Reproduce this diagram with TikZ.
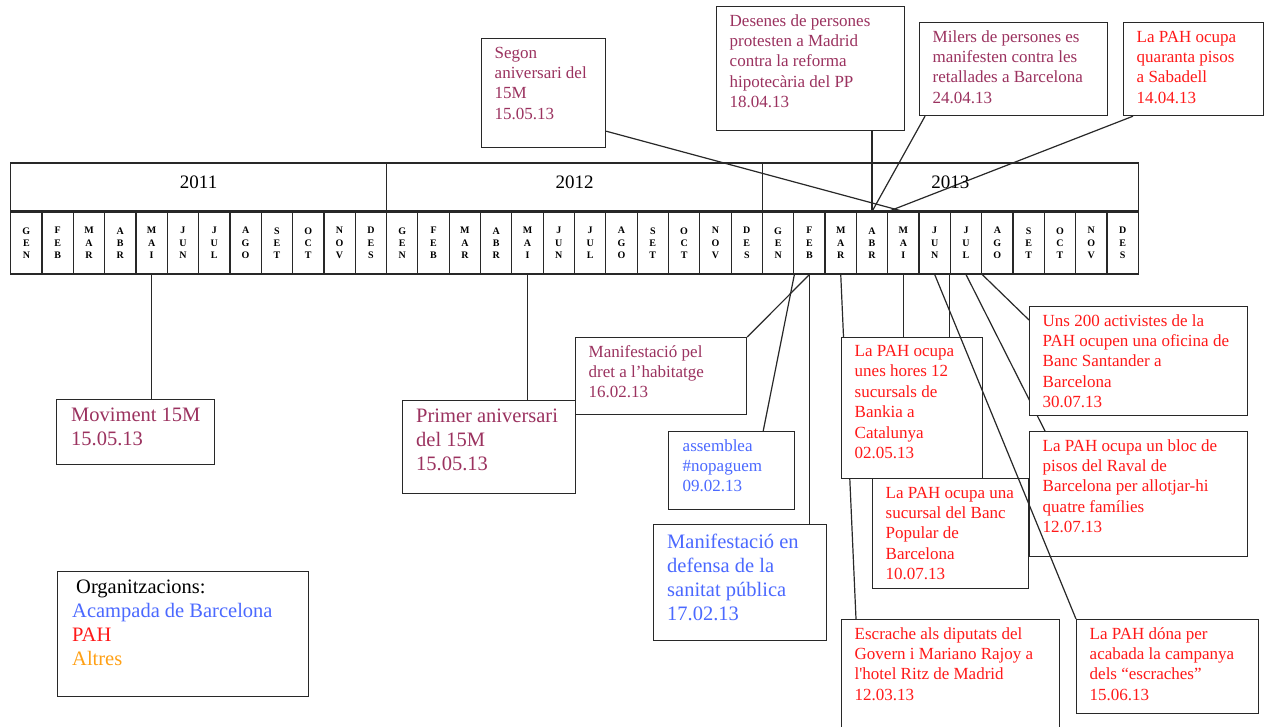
\documentclass[tikz,border=0pt]{standalone}
\usepackage{fontspec}
\setmainfont{Liberation Serif}
\usetikzlibrary{calc,backgrounds}
\definecolor{plum}{RGB}{155,50,95}
\definecolor{ablue}{RGB}{75,105,255}
\definecolor{pahred}{RGB}{255,25,25}
\definecolor{altorange}{RGB}{255,160,20}
\definecolor{edge}{RGB}{40,40,40}
\begin{document}
\begin{tikzpicture}[x=1pt,y=-1pt,
  box/.style={draw=edge, line width=1.2pt, fill=white, inner sep=0pt, anchor=north west},
  stxt/.style={inner sep=0pt, anchor=north west, align=left, font=\fontsize{17}{20.4}\selectfont},
  ltxt/.style={inner sep=0pt, anchor=north west, align=left, font=\fontsize{20.5}{24}\selectfont},
  conn/.style={draw=edge, line width=1.2pt},
  yearbox/.style={draw=edge, line width=1.2pt, minimum width=375.87pt, minimum height=48pt, inner sep=0pt},
  yeartxt/.style={inner sep=0pt, font=\fontsize{19}{22}\selectfont},
  monthbox/.style={draw=edge, line width=1.2pt, minimum width=31.322pt, minimum height=62pt, inner sep=0pt, align=center, font=\bfseries\fontsize{10}{12.3}\selectfont}
]
\useasboundingbox (0,0) rectangle (1268,726);
\clip (0,0) rectangle (1268,726);

% timeline
\foreach \yr [count=\yi from 0] in {2011,2012,2013} {
  \node[yearbox] (y\yr) at ({10.7+\yi*375.87+187.935},187) {};
  \node[yeartxt] (yl\yr) at ([yshift=5pt]y\yr.center) {\yr};
  \foreach \mn [count=\mi] in {{G\\E\\N},{F\\E\\B},{M\\A\\R},{A\\B\\R},{M\\A\\I},{J\\U\\N},{J\\U\\L},{A\\G\\O},{S\\E\\T},{O\\C\\T},{N\\O\\V},{D\\E\\S}}
    \node[monthbox] (m\yr-\mi) at ({10.7+\yi*375.87+(\mi-0.5)*31.322},243) {\mn};
}

% top boxes
\node[box, minimum width=124pt, minimum height=109pt] (segon) at (481,38) {};
\node[stxt, text=plum] (segon-t) at ([shift={(13.5pt,-5.7pt)}]segon.north west) {\strut Segon\\aniversari del\\15M\\15.05.13};
\node[box, minimum width=188pt, minimum height=124pt] (desen) at (716,6) {};
\node[stxt, text=plum] (desen-t) at ([shift={(13.5pt,-5.7pt)}]desen.north west) {\strut Desenes de persones\\protesten a Madrid\\contra la reforma\\hipotecària del PP\\18.04.13};
\node[box, minimum width=188pt, minimum height=93pt] (milers) at (919,22) {};
\node[stxt, text=plum] (milers-t) at ([shift={(13.5pt,-5.7pt)}]milers.north west) {\strut Milers de persones es\\manifesten contra les\\retallades a Barcelona\\24.04.13};
\node[box, minimum width=140pt, minimum height=93pt] (sabad) at (1123,22) {};
\node[stxt, text=pahred] (sabad-t) at ([shift={(13.5pt,-5.7pt)}]sabad.north west) {\strut La PAH ocupa\\quaranta pisos\\a Sabadell\\14.04.13};

% bottom boxes
\node[box, minimum width=158pt, minimum height=65pt] (mov) at (56,399) {};
\node[ltxt, text=plum] (mov-t) at ([shift={(15pt,-5.8pt)}]mov.north west) {\strut Moviment 15M\\15.05.13};
\node[box, minimum width=173pt, minimum height=93pt] (primer) at (402,400) {};
\node[ltxt, text=plum] (primer-t) at ([shift={(14pt,-5.8pt)}]primer.north west) {\strut Primer aniversari\\del 15M\\15.05.13};
\node[box, minimum width=171pt, minimum height=77pt] (habit) at (575,337) {};
\node[stxt, text=plum] (habit-t) at ([shift={(13.5pt,-5.7pt)}]habit.north west) {\strut Manifestació pel\\dret a l’habitatge\\16.02.13};
\node[box, minimum width=126pt, minimum height=78pt] (assem) at (668,431) {};
\node[stxt, text=ablue] (assem-t) at ([shift={(14.5pt,-5.7pt)}]assem.north west) {\strut assemblea\\\#nopaguem\\09.02.13};
\node[box, minimum width=173pt, minimum height=116pt] (sanit) at (653,524) {};
\node[ltxt, text=ablue] (sanit-t) at ([shift={(14pt,-7.5pt)}]sanit.north west) {\strut Manifestació en\\defensa de la\\sanitat pública\\17.02.13};
\node[box, minimum width=141pt, minimum height=141pt] (bankia) at (841,337) {};
\node[stxt, text=pahred] (bankia-t) at ([shift={(13.5pt,-5pt)}]bankia.north west) {\strut La PAH ocupa\\unes hores 12\\sucursals de\\Bankia a\\Catalunya\\02.05.13};
\node[box, minimum width=156pt, minimum height=110pt] (popul) at (872,478) {};
\node[stxt, text=pahred] (popul-t) at ([shift={(13.5pt,-5.7pt)}]popul.north west) {\strut La PAH ocupa una\\sucursal del Banc\\Popular de\\Barcelona\\10.07.13};
\node[box, minimum width=218pt, minimum height=109pt] (sant) at (1029,306) {};
\node[stxt, text=pahred] (sant-t) at ([shift={(13.5pt,-5.7pt)}]sant.north west) {\strut Uns 200 activistes de la\\PAH ocupen una oficina de\\Banc Santander a\\Barcelona\\30.07.13};
\node[box, minimum width=218pt, minimum height=125pt] (raval) at (1029,431) {};
\node[stxt, text=pahred] (raval-t) at ([shift={(13.5pt,-5.7pt)}]raval.north west) {\strut La PAH ocupa un bloc de\\pisos del Raval de\\Barcelona per allotjar-hi\\quatre famílies\\12.07.13};
\node[box, minimum width=218pt, minimum height=120pt] (escr) at (841,619) {};
\node[stxt, text=pahred] (escr-t) at ([shift={(13.5pt,-5.7pt)}]escr.north west) {\strut Escrache als diputats del\\Govern i Mariano Rajoy a\\l\textquotesingle hotel Ritz de Madrid\\12.03.13};
\node[box, minimum width=182pt, minimum height=94pt] (dona) at (1076,619) {};
\node[stxt, text=pahred] (dona-t) at ([shift={(13.5pt,-5.7pt)}]dona.north west) {\strut La PAH dóna per\\acabada la campanya\\dels “escraches”\\15.06.13};

% legend
\node[box, minimum width=251pt, minimum height=125pt] (legend) at (57,571) {};
\node[ltxt] (legend-t) at ([shift={(15pt,-5.8pt)}]legend.north west) {\strut\hspace*{4pt}Organitzacions:\\\textcolor{ablue}{Acampada de Barcelona}\\\textcolor{pahred}{PAH}\\\textcolor{altorange}{Altres}};

% connector drawn over boxes
\draw[conn] (m2013-6.south) -- (dona.north west);

% connectors behind boxes
\begin{pgfonlayer}{background}
\fill[white] (0,0) rectangle (1268,726);
\draw[conn] (m2011-5.south) -- (m2011-5.south |- mov.north);
\draw[conn] (m2012-5.south) -- (m2012-5.south |- primer.north);
\draw[conn] (habit.north east) -- (m2013-2.south);
\draw[conn] (m2013-1.south east) -- ([xshift=-32pt]assem.north east);
\draw[conn] (m2013-2.south) -- (m2013-2.south |- sanit.north);
\draw[conn] (m2013-3.south) -- ([xshift=15pt]escr.north west);
\draw[conn] (m2013-5.south) -- (m2013-5.south |- bankia.north);
\draw[conn] (m2013-7.south west) -- (m2013-7.south west |- popul.north);
\draw[conn] (m2013-7.south) -- ([xshift=16pt]raval.north west);
\draw[conn] (m2013-7.south east) -- ([yshift=-14pt]sant.north west);
\draw[conn] (m2013-4.north |- desen.south) -- (m2013-4.north);
\draw[conn] ([xshift=6pt]milers.south west) -- (m2013-4.north);
\draw[conn] ([xshift=10pt]sabad.south west) -- (m2013-4.north east);
\draw[conn] ([yshift=17pt]segon.south east) -- (m2013-5.north);
\end{pgfonlayer}
\end{tikzpicture}
\end{document}
